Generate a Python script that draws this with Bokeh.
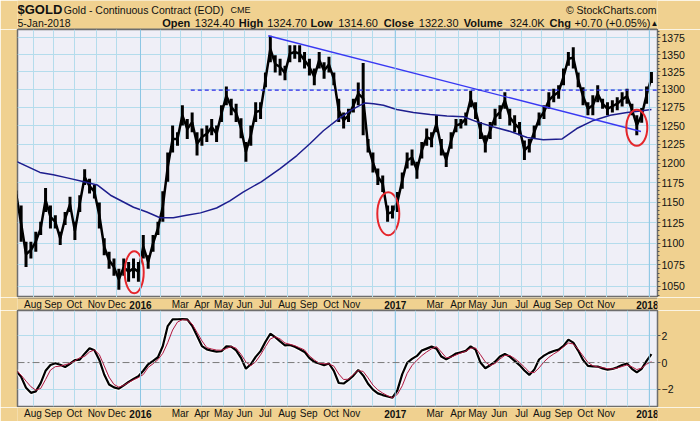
import pandas as pd
from bokeh.plotting import figure
from bokeh.layouts import column
from bokeh.models import Range1d, FixedTicker, Span, NumeralTickFormatter
from bokeh.core.properties import value
from bokeh.embed import file_html
from bokeh.resources import INLINE

# ---------------- data ----------------
week_start = "2015-07-10"   # weekly samples (Fridays)
price_high = [1165,1146,1102,1102,1114,1126,1168,1146,1134,1114,
              1138,1157,1126,1159,1192,1180,1172,1150,1106,1090,
              1082,1070,1082,1078,1082,1078,1110,1086,1110,1126,
              1164,1214,1250,1241,1278,1259,1268,1241,1246,1250,
              1259,1250,1278,1304,1287,1280,1260,1228,1250,1282,
              1282,1324,1378,1349,1344,1334,1364,1364,1364,1354,
              1344,1330,1354,1339,1347,1324,1287,1268,1273,1287,
              1310,1338,1232,1214,1193,1184,1146,1146,1163,1188,
              1214,1218,1202,1228,1246,1241,1264,1232,1214,1241,
              1259,1259,1268,1298,1282,1255,1237,1255,1273,1278,
              1296,1273,1264,1255,1230,1232,1250,1268,1278,1296,
              1301,1306,1330,1354,1361,1324,1303,1282,1292,1306,
              1287,1282,1285,1289,1296,1301,1280,1264,1274,1304,
              1325]
price_low = [1155,1102,1072,1082,1090,1110,1138,1118,1118,1098,
             1122,1138,1104,1138,1172,1161,1155,1118,1086,1070,
             1062,1046,1062,1055,1059,1055,1082,1070,1090,1110,
             1126,1176,1214,1223,1250,1232,1241,1210,1223,1228,
             1237,1228,1255,1278,1264,1255,1233,1202,1223,1255,
             1259,1303,1339,1324,1320,1313,1339,1344,1339,1330,
             1320,1306,1330,1315,1324,1306,1255,1246,1255,1268,
             1278,1237,1214,1188,1172,1163,1126,1130,1138,1167,
             1193,1197,1180,1206,1223,1221,1241,1210,1195,1219,
             1241,1246,1250,1275,1259,1232,1214,1232,1250,1259,
             1273,1250,1241,1237,1204,1214,1232,1250,1259,1273,
             1282,1287,1306,1334,1330,1303,1278,1264,1264,1282,
             1273,1264,1268,1271,1276,1280,1264,1237,1254,1280,
             1309]
ma200_dates = ["2015-07-11","2015-08-13","2015-09-01","2015-09-21","2015-10-15","2015-11-03",
               "2015-11-22","2015-12-25","2016-01-13","2016-02-01","2016-02-20","2016-03-10",
               "2016-03-30","2016-04-22","2016-05-11","2016-05-30","2016-06-25","2016-07-22",
               "2016-08-15","2016-09-03","2016-09-22","2016-10-11","2016-10-30","2016-11-14",
               "2016-11-21","2016-12-03","2016-12-17","2017-01-05","2017-01-29","2017-02-22",
               "2017-03-18","2017-04-11","2017-04-30","2017-05-24","2017-06-17","2017-07-11",
               "2017-08-03","2017-08-30","2017-09-20","2017-10-14","2017-11-07","2017-12-01",
               "2017-12-20","2018-01-05"]
ma200_values = [1202,1188,1185,1181,1176,1172,1159,1144,1138,1131,1131,1134,
                1137,1143,1152,1163,1176,1193,1210,1226,1243,1257,1270,1278,
                1281,1280,1278,1272,1268,1265,1263,1262,1255,1248,1242,1234,
                1231,1232,1246,1257,1264,1268,1270,1272]
trend_dates = ["2016-07-05", "2017-12-21"]
trend_values = [1378, 1242]
resistance_dates = ["2016-03-16", "2018-01-14"]
resistance_values = [1299, 1299]
circle_dates = ["2015-12-26", "2016-12-24", "2017-12-15"]
circle_prices = [1066, 1136, 1247]

pmo_values = [-0.62,-1.08,-1.90,-2.28,-2.17,-1.55,-0.62,-0.18,-0.05,-0.17,
              -0.34,-0.09,0.18,0.22,0.67,1.08,0.92,0.20,-0.90,-1.65,
              -1.87,-1.97,-1.72,-1.46,-1.23,-1.03,-0.62,-0.13,0.13,0.40,
              1.25,2.75,3.25,3.26,3.27,3.25,2.77,2.02,1.24,0.99,
              0.89,0.82,0.85,1.22,1.20,0.92,0.35,-0.47,-0.13,0.43,
              0.86,1.57,2.17,1.92,1.60,1.30,1.32,1.19,1.00,0.80,
              0.33,0.05,-0.07,-0.20,-0.07,-0.63,-1.54,-1.58,-1.30,-0.98,
              -0.55,-0.97,-1.60,-2.04,-2.32,-2.45,-2.56,-2.65,-2.10,-0.87,
              -0.02,0.28,0.50,0.90,1.05,1.20,1.05,0.45,0.24,0.45,
              0.68,0.78,0.88,1.22,0.97,0.00,-0.43,-0.20,0.06,0.46,
              0.65,0.45,0.13,-0.19,-0.60,-0.93,-0.55,0.23,0.52,0.73,
              0.87,0.97,1.25,1.73,1.50,0.90,0.20,-0.25,-0.29,-0.30,
              -0.44,-0.54,-0.48,-0.36,-0.18,-0.07,-0.47,-0.74,-0.47,0.12,
              0.64]
signal_values = [-0.58,-0.95,-1.40,-1.82,-2.08,-1.95,-1.28,-0.57,-0.31,-0.27,
                 -0.16,-0.07,0.12,0.37,0.46,0.80,0.95,0.60,-0.25,-1.10,
                 -1.65,-1.85,-1.72,-1.50,-1.30,-1.13,-0.90,-0.36,-0.09,0.22,
                 0.70,1.50,2.45,3.05,3.23,3.20,2.90,2.28,1.63,1.12,
                 1.02,0.94,0.93,1.05,1.21,1.08,0.62,0.04,-0.24,0.06,
                 0.58,1.20,1.78,1.94,1.78,1.47,1.38,1.27,1.11,0.95,
                 0.50,0.20,-0.06,-0.09,-0.10,-0.27,-0.86,-1.28,-1.25,-0.90,
                 -0.60,-0.67,-1.15,-1.70,-2.06,-2.30,-2.50,-2.65,-2.40,-1.75,
                 -0.82,-0.22,0.17,0.52,0.80,1.04,1.20,0.79,0.36,0.41,
                 0.57,0.72,0.85,1.08,1.10,0.59,0.05,-0.23,-0.07,0.27,
                 0.54,0.53,0.31,0.01,-0.34,-0.72,-0.76,-0.40,0.05,0.39,
                 0.65,0.87,1.18,1.47,1.40,1.00,0.50,0.01,-0.24,-0.33,
                 -0.37,-0.46,-0.48,-0.41,-0.30,-0.18,-0.32,-0.53,-0.41,-0.12,
                 0.06]

month_ticks = ["2015-08-03","2015-09-01","2015-10-01","2015-11-02","2015-12-01","2016-01-04",
               "2016-02-01","2016-03-01","2016-04-01","2016-05-02","2016-06-01","2016-07-01",
               "2016-08-01","2016-09-01","2016-10-03","2016-11-01","2016-12-01","2017-01-03",
               "2017-02-01","2017-03-01","2017-04-03","2017-05-01","2017-06-01","2017-07-03",
               "2017-08-01","2017-09-01","2017-10-02","2017-11-01","2017-12-01","2018-01-02"]
month_labels = ["Aug","Sep","Oct","Nov","Dec","2016","","Mar","Apr","May","Jun","Jul",
                "Aug","Sep","Oct","Nov","","2017","","Mar","Apr","May","Jun","Jul",
                "Aug","Sep","Oct","Nov","","2018"]
price_ticks = [1050,1075,1100,1125,1150,1175,1200,1225,1250,1275,1300,1325,1350,1375]
price_minor_ticks = list(range(1040, 1390, 5))
osc_ticks = [-2, 0, 2]

symbol = "$GOLD"
description = "Gold - Continuous Contract (EOD)"
exchange = "CME"
quote_date = "5-Jan-2018"
quote_names = ["Open", "High", "Low", "Close", "Volume", "Chg"]
quote_values = ["1324.40", "1324.70", "1314.60", "1322.30", "324.0K", "+0.70 (+0.05%)"]

# ---------------- style ----------------
TAN = "#F0D190"
BG = "#EFEFF7"
GRID = "#B4DCEC"
YEARGRID = "#8CC6E4"
EDGE = "#6E6E6E"
FONT = "Liberation Sans"
W = 700
FL, FR = 17, 43          # frame spans x = 17 .. 657

weeks = pd.date_range(week_start, periods=len(price_high), freq="7D")
ms = lambda d: pd.Timestamp(d).value / 1e6
month_ms = [ms(d) for d in month_ticks]
X0, X1 = ms("2015-07-11 19:00"), ms("2018-01-13 16:00")
x_range = Range1d(X0, X1)


def strip(height, xr):
    f = figure(width=W, height=height, x_range=xr, y_range=Range1d(height, 0),
               toolbar_location=None, output_backend="svg",
               x_axis_location=None, y_axis_location=None,
               min_border_left=FL, min_border_right=FR, min_border_top=0, min_border_bottom=0,
               background_fill_color=TAN, border_fill_color=TAN, outline_line_color=None)
    for g in f.grid:
        g.visible = False
    return f


def panel(height, y_range, y_type, top, bottom):
    f = figure(width=W, height=height, x_axis_type="datetime", y_axis_type=y_type,
               x_range=x_range, y_range=y_range, y_axis_location="right",
               toolbar_location=None, output_backend="svg",
               min_border_left=FL, min_border_right=FR, min_border_top=top,
               min_border_bottom=bottom, background_fill_color=BG,
               border_fill_color=TAN, outline_line_color=EDGE, outline_line_width=1.5)
    f.xaxis.visible = False
    f.xgrid.ticker = FixedTicker(ticks=month_ms)
    f.xgrid.grid_line_color = GRID
    f.ygrid.grid_line_color = GRID
    ax = f.yaxis[0]
    ax.axis_line_color = None
    ax.major_tick_in = 0
    ax.major_tick_out = 3
    ax.minor_tick_in = 0
    ax.minor_tick_out = 2
    ax.major_tick_line_color = "#555555"
    ax.minor_tick_line_color = "#555555"
    ax.major_label_standoff = 1
    ax.major_label_text_font = FONT
    ax.major_label_text_font_size = "10.5px"
    ax.major_label_text_color = "#111111"
    for d, t in zip(month_ticks, month_labels):
        if t.isdigit():
            f.add_layout(Span(location=ms(d), dimension="height", line_color=YEARGRID, line_width=1))
    return f


def txt(f, x, y, text, size, bold=False, align="left", baseline="middle", dx=0):
    f.text(x=x, y=y, text=text, text_font=value(FONT), text_font_size=value(size),
           text_font_style="bold" if bold else "normal", text_color="#111111",
           text_align=align, text_baseline=baseline, x_offset=dx)


# ---------------- header strip (x in pixels, y in pixels from top) ----------------
head = strip(29, Range1d(FL, W - FR))
txt(head, [17], [9.0], [symbol], "13px", True)
txt(head, [63.3], [9.3], [description], "10.5px")
txt(head, [230], [9.6], [exchange], "9px")
txt(head, [656], [9.0], ["\u00a9 StockCharts.com"], "10.5px", align="right")
txt(head, [17], [22.5], [quote_date], "10.5px")
name_x = [161.7, 238.3, 310, 383.3, 463.3, 549]
value_x = [194.3, 266.7, 337.7, 418.3, 509.3, 574]
txt(head, name_x, [22.5] * 6, quote_names, "11px", True)
txt(head, value_x, [22.5] * 6, quote_values, "11px")
txt(head, [650], [22.5], ["\u25b2"], "8px")
head.line([FL, W - FR], [28.5, 28.5], line_color=EDGE, line_width=1)

# ---------------- main price panel ----------------
p = panel(268, Range1d(1037.2, 1387.4), "log", 0, 0)
p.yaxis.ticker = FixedTicker(ticks=price_ticks, minor_ticks=price_minor_ticks)
p.yaxis.formatter = NumeralTickFormatter(format="0")

price_mid = [(h + l) / 2 for h, l in zip(price_high, price_low)]
p.segment(x0=weeks, y0=price_low, x1=weeks, y1=price_high, line_color="black", line_width=3)
p.line(weeks, price_mid, line_color="black", line_width=2.5)
p.line(pd.to_datetime(ma200_dates), ma200_values, line_color="#1E1E8E", line_width=1.5)
p.line(pd.to_datetime(trend_dates), trend_values, line_color="#3838F2", line_width=1.4)
p.line(pd.to_datetime(resistance_dates), resistance_values, line_color="#2A2AE6",
       line_width=1.3, line_dash="4 3")
p.ellipse(x=pd.to_datetime(circle_dates), y=circle_prices, width=[19, 22, 21], height=[42, 43, 36],
          width_units="screen", height_units="screen", fill_color=None,
          line_color="#E5262B", line_width=2)


# ---------------- month label strips ----------------
def month_strip(height, ymid, top_edge, bottom_edge):
    f = strip(height, x_range)
    md = [pd.Timestamp(d) for d, t in zip(month_ticks, month_labels) if t and not t.isdigit()]
    mt = [t for t in month_labels if t and not t.isdigit()]
    yd = [pd.Timestamp(d) for d, t in zip(month_ticks, month_labels) if t.isdigit()]
    yt = [t for t in month_labels if t.isdigit()]
    txt(f, md, [ymid] * len(md), mt, "10px", align="center")
    txt(f, yd[:-1], [ymid] * (len(yd) - 1), yt[:-1], "10px", True, align="center")
    txt(f, yd[-1:], [ymid], yt[-1:], "10px", True, align="center", dx=-2)
    if top_edge:
        f.line([X0, X1], [0.5, 0.5], line_color=EDGE, line_width=1)
    if bottom_edge:
        f.line([X0, X1], [height - 0.5, height - 0.5], line_color=EDGE, line_width=1)
    return f

row1 = month_strip(13, 7.0, True, True)

# ---------------- oscillator panel ----------------
q = panel(97, Range1d(-3.31, 3.92), "linear", 0, 1)
q.yaxis.ticker = FixedTicker(ticks=osc_ticks)
q.ygrid.ticker = FixedTicker(ticks=[-2, 2])
q.add_layout(Span(location=0, dimension="width", line_color="#7A7A7A",
                  line_width=1, line_dash="7 3 2 3"))
q.line(weeks, pmo_values, line_color="#FFFFFF", line_alpha=0.8, line_width=4.5)
q.line(weeks, pmo_values, line_color="black", line_width=2.2)
q.line(weeks, signal_values, line_color="#B0173F", line_width=1)

row2 = month_strip(14, 6.0, False, False)

layout = column(head, p, row1, q, row2)
open("out.html", "w").write(file_html(layout, INLINE))
